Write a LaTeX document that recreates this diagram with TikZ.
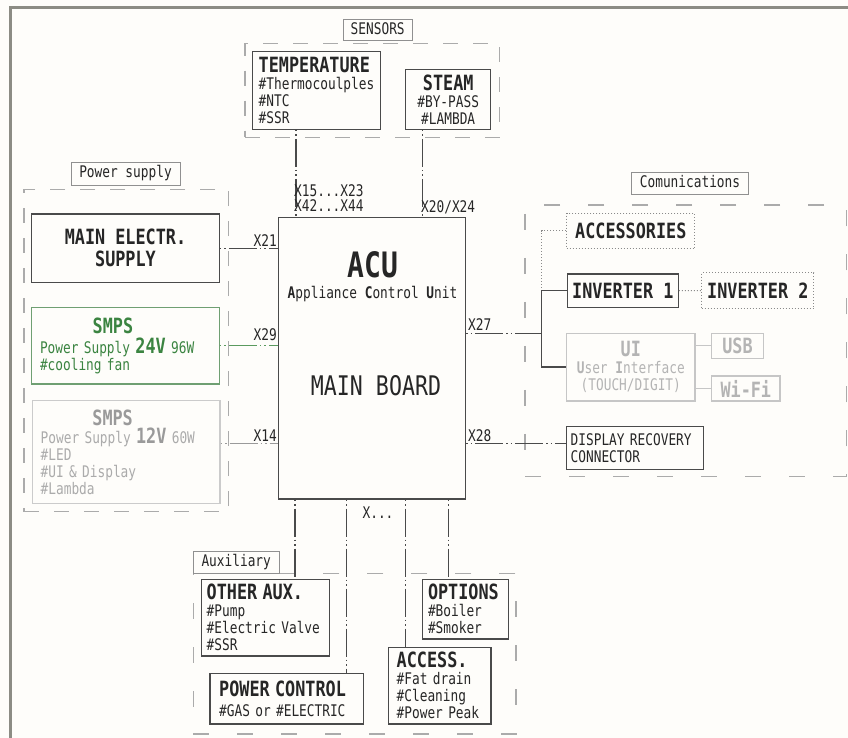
\documentclass[tikz,border=0pt]{standalone}
\usepackage{fontspec}
\newfontfamily\cf{DejaVu Sans Mono}[FakeStretch=0.8]
\newcommand\myBody{\cf\fontsize{16}{17}\selectfont}
\newcommand\myTitle{\cf\bfseries\fontsize{21}{22}\selectfont}
\definecolor{bgc}{HTML}{FEFDFA}
\definecolor{txt}{HTML}{262626}
\definecolor{boxc}{HTML}{4A4A4A}
\definecolor{grpc}{HTML}{ABABAB}
\definecolor{lblc}{HTML}{909090}
\definecolor{gtxt}{HTML}{3B8441}
\definecolor{gbox}{HTML}{6F9F72}
\definecolor{gline}{HTML}{5A9A5E}
\definecolor{ltxt}{HTML}{ABABAB}
\definecolor{ltitle}{HTML}{9A9A9A}
\definecolor{lbox}{HTML}{CBCBCB}
\definecolor{uitxt}{HTML}{B4B4B4}
\definecolor{uibox}{HTML}{C6C6C6}
\definecolor{frm}{HTML}{8C8C84}
\definecolor{dotc}{HTML}{8A8A8A}
\tikzset{
  bx/.style={draw=boxc, line width=1.3pt, inner sep=0pt, text=txt, font=\myBody},
  dotbx/.style={draw=dotc, line width=1pt, dash pattern=on 1pt off 2pt, inner sep=0pt, text=txt, font=\myTitle},
  lbl/.style={draw=lblc, line width=0.8pt, inner sep=0pt, text=txt, font=\myBody, text height=11.7pt, text depth=3.3pt},
  grpA/.style={draw=grpc, line width=1.2pt, dash pattern=on 15pt off 15pt, inner sep=0pt},
  grpB/.style={draw=grpc, line width=1.2pt, dash pattern=on 16pt off 28pt, inner sep=0pt},
  conn/.style={draw=boxc, line width=1.2pt, dash pattern=on 1.5pt off 3pt on 1.5pt off 3pt on 28pt off 3pt},
  dotl/.style={draw=dotc, line width=1pt, dash pattern=on 1pt off 2pt},
  solidl/.style={draw=boxc, line width=1.5pt},
  uil/.style={draw=uibox, line width=1.2pt},
  xl/.style={inner sep=0pt, text=txt, font=\myBody}
}
\begin{document}
\begin{tikzpicture}[x=1pt,y=-1pt]
\useasboundingbox (0,0) rectangle (848,738);
\fill[bgc] (0,0) rectangle (848,738);
\draw[frm, line width=3pt] (10.5,738) -- (10.5,7.5) -- (848,7.5);

% groups
\node[grpA, minimum width=254.3pt, minimum height=94pt] (sensgrp) at (372.15,90.3) {};
\node[grpA, minimum width=204.3pt, minimum height=322.4pt] (psgrp) at (126.15,350.5) {};
\node[grpB, minimum width=321.7pt, minimum height=271.7pt] (comgrp) at (685.85,340.85) {};
\node[grpB, minimum width=322.7pt, minimum height=160.7pt] (auxgrp) at (354.65,653.65) {};

% group labels
\node[lbl, minimum width=69.5pt, minimum height=21.5pt] (senslbl) at (377.7,30) {SENSORS};
\node[lbl, minimum width=109pt, minimum height=22.7pt] (pslbl) at (125.5,173.7) {Power supply};
\node[lbl, minimum width=116.6pt, minimum height=22pt] (comlbl) at (690,183.3) {Comunications};
\node[lbl, minimum width=85.7pt, minimum height=21.6pt] (auxlbl) at (236.2,562.5) {Auxiliary};

% sensors
\node[bx, minimum width=128pt, minimum height=77.6pt, text width=116pt, align=left] (temp) at (316.7,90.5)
  {{\myTitle TEMPERATURE}\\\#Thermocoulples\\\#NTC\\\#SSR};
\node[bx, minimum width=85pt, minimum height=60pt, text width=80pt, align=center] (steam) at (448.2,99.3)
  {{\myTitle STEAM}\\\#BY-PASS\\\#LAMBDA};

% power supply
\node[bx, minimum width=187.6pt, minimum height=68.3pt, align=center, font=\myTitle] (mains) at (125.5,248.2)
  {MAIN ELECTR.\\SUPPLY};
\node[bx, draw=gbox, text=gtxt, minimum width=187.6pt, minimum height=76.7pt, text width=171pt, align=left] (s24) at (125.5,345.7)
  {\hspace*{52.7pt}{\myTitle SMPS}\\[3pt]Power Supply {\myTitle 24V} 96W\\\#cooling fan};
\node[bx, draw=lbox, text=ltxt, minimum width=187.7pt, minimum height=102.6pt, text width=171pt, align=left] (s12) at (126.2,452)
  {\hspace*{51.7pt}{\myTitle\color{ltitle}SMPS}\\[1pt]Power Supply {\myTitle\color{ltitle}12V} 60W\\\#LED\\\#UI \& Display\\\#Lambda};

% ACU
\node[bx, minimum width=187.4pt, minimum height=281.7pt] (acu) at (372,358.2) {};
\node[xl, font=\cf\bfseries\fontsize{35}{36}\selectfont] (acut) at (372.7,265) {ACU};
\node[xl, anchor=base] (acus) at (372.5,298) {\textbf{A}ppliance \textbf{C}ontrol \textbf{U}nit};
\node[xl, font=\cf\fontsize{27}{28}\selectfont] (acumb) at (376,386) {MAIN BOARD};

% communications
\node[dotbx, minimum width=128.3pt, minimum height=35pt] (acc) at (630.8,230.8) {ACCESSORIES};
\node[bx, minimum width=111pt, minimum height=33.3pt, font=\myTitle] (inv1) at (622.8,290.7) {INVERTER 1};
\node[dotbx, minimum width=112.3pt, minimum height=35.6pt] (inv2) at (757.8,290.5) {INVERTER 2};
\node[bx, draw=uibox, text=uitxt, minimum width=128.3pt, minimum height=67.7pt, align=center] (ui) at (630.8,367.2)
  {{\myTitle UI}\\\textbf{U}ser \textbf{I}nterface\\(TOUCH/DIGIT)};
\node[bx, draw=uibox, text=uitxt, minimum width=51.6pt, minimum height=25pt, font=\myTitle] (usb) at (737.5,345.8) {USB};
\node[bx, draw=uibox, text=uitxt, minimum width=68.3pt, minimum height=25pt, font=\myTitle] (wifi) at (745.8,388.5) {Wi-Fi};
\node[bx, minimum width=136.6pt, minimum height=42.6pt, text width=128.6pt, align=left] (drc) at (635,448)
  {DISPLAY RECOVERY\\CONNECTOR};

% auxiliary
\node[bx, minimum width=127.6pt, minimum height=76.7pt, text width=117.6pt, align=left] (oaux) at (265.5,617.7)
  {{\myTitle OTHER AUX.}\\\#Pump\\\#Electric Valve\\\#SSR};
\node[bx, minimum width=153.3pt, minimum height=50.7pt, text width=135pt, align=left] (pctl) at (286.7,698.7)
  {{\myTitle POWER CONTROL}\\[3pt]\#GAS or \#ELECTRIC};
\node[bx, minimum width=85.6pt, minimum height=59.7pt, text width=75pt, align=left] (opts) at (465.5,609.2)
  {{\myTitle OPTIONS}\\\#Boiler\\\#Smoker};
\node[bx, minimum width=102.7pt, minimum height=76.7pt, text width=86pt, align=left] (acs) at (439.7,685.7)
  {{\myTitle ACCESS.}\\\#Fat drain\\\#Cleaning\\\#Power Peak};

% connectors: sensors
\coordinate (cT) at (296,170);
\coordinate (cS) at (422.7,170);
\draw[conn] (temp.south -| cT) -- (acu.north -| cT);
\draw[conn] (steam.south -| cS) -- (acu.north -| cS);
% power
\coordinate (c14) at (250,443.3);
\draw[conn] (mains.east) -- (mains.east -| acu.west);
\draw[conn, draw=gline] (s24.east) -- (s24.east -| acu.west);
\draw[conn, draw=ltitle] (s12.east |- c14) -- (acu.west |- c14);
% communications
\coordinate (bus) at (541.7,333.3);
\coordinate (c28) at (500,443.3);
\draw[conn] (acu.east |- bus) -- (bus);
\draw[dotl] (acc.west) -- (bus |- acc.west) -- (bus |- inv1.west);
\draw[solidl] (inv1.west) -- (bus |- inv1.west) -- (bus |- ui.west) -- (ui.west);
\draw[dotl] (inv1.east) -- (inv2.west);
\draw[uil] (ui.east |- usb.west) -- (usb.west);
\draw[uil] (ui.east |- wifi.west) -- (wifi.west);
\draw[conn] (acu.east |- c28) -- (drc.west |- c28);
% auxiliary
\coordinate (b1) at (295,540);
\coordinate (b2) at (346.7,540);
\coordinate (b3) at (405.7,540);
\coordinate (b4) at (448.3,540);
\draw[conn] (acu.south -| b1) -- (oaux.north -| b1);
\draw[conn] (acu.south -| b2) -- (pctl.north -| b2);
\draw[conn] (acu.south -| b3) -- (acs.north -| b3);
\draw[conn] (acu.south -| b4) -- (opts.north -| b4);

% connector labels
\node[xl, anchor=west, align=left, font=\cf\fontsize{16}{15}\selectfont] (lT) at (294,198.5) {X15...X23\\X42...X44};
\node[xl, anchor=base west] (lS) at (421,212) {X20/X24};
\node[xl, anchor=base east] (l21) at (277,246.5) {X21};
\node[xl, anchor=base east] (l29) at (277,340) {X29};
\node[xl, anchor=base east] (l14) at (277,441.5) {X14};
\node[xl, anchor=base west] (l27) at (468,330) {X27};
\node[xl, anchor=base west] (l28) at (468,441.5) {X28};
\node[xl, anchor=base] (lx) at (378,518.3) {X...};
\end{tikzpicture}
\end{document}
